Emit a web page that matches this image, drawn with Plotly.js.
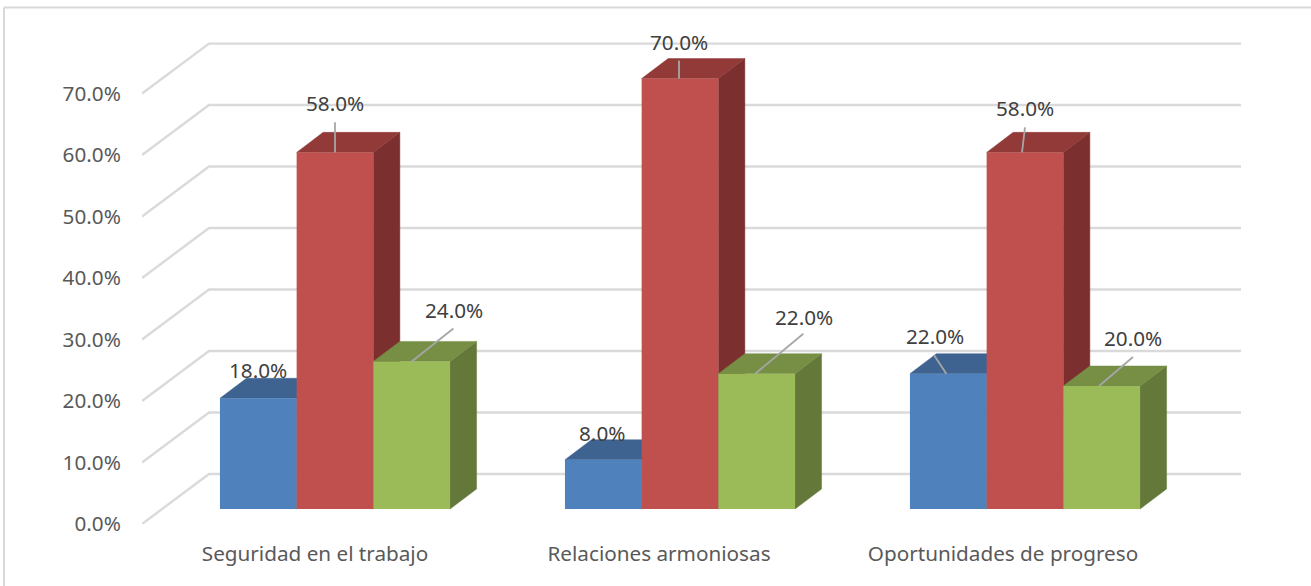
<!DOCTYPE html>
<html>
<head>
<meta charset="utf-8">
<script src="https://cdn.plot.ly/plotly-3.0.1.min.js"></script>
<style>
  html, body { margin: 0; padding: 0; background: #fff; }
  #chart { width: 1311px; height: 586px; }
</style>
</head>
<body>
<div id="chart"></div>
<script>
// Survey results per category
const categories = ['Seguridad en el trabajo', 'Relaciones armoniosas', 'Oportunidades de progreso'];
const serieA = [18, 8, 22];
const serieB = [58, 70, 58];
const serieC = [24, 22, 20];
const yTicks = [0, 10, 20, 30, 40, 50, 60, 70];

// Colours per series: front, top and side faces of the boxes
const frontColors = ['#4F81BD', '#C0504D', '#9BBB59'];
const topColors = ['#3E6390', '#913A38', '#778F45'];
const sideColors = ['#35557C', '#7B302F', '#64783A'];

// Text centre relative to the top-centre of each bar, in pixels [dx, dy]
const labelOffset = [
  [[0, -28], [-1, -27], [-13, -38]],
  [[0, -49], [-1, -37], [0, -44]],
  [[42, -51], [47, -57], [31, -48]]
];
// Leader lines in pixels [foot dx, end dx, end dy], null where a label has none
const leaderOffset = [
  [null, null, [-2, -14.5, -19]],
  [[0, 0, -30], [-1, -1, -18], [-3, 0, -25]],
  [[0, 41.7, -33], [-1.5, 46.6, -40], [-2.7, 31.3, -29]]
];

// Pseudo-3D scene geometry, in pixels of the frame
const plotLeft = 142, plotRight = 1241, plotTop = 30, plotBottom = 523.8;
const pxPerCat = 344, pxPerGroup = 345, pxPerUnit = 6.146;
const ux = px => px / pxPerCat, uy = px => px / pxPerUnit;
const wallDX = ux(67), wallDY = uy(50);
const boxDX = ux(26.5), boxDY = uy(20);
const barW = ux(76.7), groupShift = ux(21), floorBase = uy(15);
const xMin = -0.5, xMax = xMin + (plotRight - plotLeft) / pxPerCat;
const yMax = (plotBottom - plotTop) / pxPerUnit;

const series = [serieA, serieB, serieC];
const traces = [];

// Side wall diagonals and back wall gridlines
const gx = [], gy = [];
yTicks.forEach(t => {
  gx.push(xMin, xMin + wallDX, xMax, null);
  gy.push(t, t + wallDY, t + wallDY, null);
});
traces.push({
  type: 'scatter', mode: 'lines', x: gx, y: gy, zorder: 0, cliponaxis: false,
  line: { color: '#DADADA', width: 2.4 }, hoverinfo: 'skip', showlegend: false
});

const barCenter = (i, k) => i * pxPerGroup / pxPerCat + groupShift + (k - 1) * barW;

series.forEach((vals, k) => {
  const tx = [], ty = [], sx = [], sy = [];
  vals.forEach((v, i) => {
    const l = barCenter(i, k) - barW / 2, r = l + barW;
    const b = floorBase, t = floorBase + v;
    tx.push(l, r, r + boxDX, l + boxDX, l, null);
    ty.push(t, t, t + boxDY, t + boxDY, t, null);
    sx.push(r, r + boxDX, r + boxDX, r, r, null);
    sy.push(b, b + boxDY, t + boxDY, t, b, null);
  });
  const face = (x, y, color) => ({
    type: 'scatter', mode: 'lines', x, y, fill: 'toself', fillcolor: color,
    line: { color, width: 0.5 }, zorder: 2 * k + 1,
    hoverinfo: 'skip', showlegend: false
  });
  traces.push(face(sx, sy, sideColors[k]));
  traces.push(face(tx, ty, topColors[k]));
  traces.push({
    type: 'bar', x: vals.map((v, i) => barCenter(i, k)), y: vals,
    base: vals.map(() => floorBase), width: barW, zorder: 2 * k + 2,
    marker: { color: frontColors[k], line: { color: frontColors[k], width: 0 } },
    hoverinfo: 'skip', showlegend: false
  });
});

// Leader lines from the bar tops towards their labels
const lx = [], ly = [];
series.forEach((vals, k) => {
  vals.forEach((v, i) => {
    const lead = leaderOffset[k][i];
    if (!lead) return;
    const cx = barCenter(i, k), top = floorBase + v;
    lx.push(cx + ux(lead[0]), cx + ux(lead[1]), null);
    ly.push(top, top - uy(lead[2]), null);
  });
});
traces.push({
  type: 'scatter', mode: 'lines', x: lx, y: ly, zorder: 7, cliponaxis: false,
  line: { color: '#A6A6A6', width: 1.8 }, hoverinfo: 'skip', showlegend: false
});

// Value labels, attached to the top of each bar
const annotations = [];
series.forEach((vals, k) => {
  vals.forEach((v, i) => {
    const [dx, dy] = labelOffset[k][i];
    annotations.push({
      x: barCenter(i, k), y: floorBase + v, xref: 'x', yref: 'y',
      text: v.toFixed(1) + '%', showarrow: false,
      xanchor: 'center', yanchor: 'middle', xshift: dx, yshift: -dy,
      font: { family: 'Noto Sans', size: 20.7, color: '#404040' }
    });
  });
});

// Frame: top and left edges only
const W = plotRight - plotLeft, H = plotBottom - plotTop;
const frameX = (4 - plotLeft) / W, frameTop = (plotBottom - 7.5) / H, frameBottom = (plotBottom - 586) / H;
const frameRight = (1311 - plotLeft) / W;
const frameLine = { color: '#D9D9D9', width: 2 };

const layout = {
  width: 1311, height: 586,
  margin: { l: plotLeft, r: 1311 - plotRight, t: plotTop, b: 586 - plotBottom, pad: 0 },
  paper_bgcolor: '#FFFFFF', plot_bgcolor: 'rgba(0,0,0,0)',
  barmode: 'overlay', showlegend: false,
  font: { family: 'Noto Sans', size: 20.7, color: '#595959' },
  xaxis: {
    range: [xMin, xMax], tickmode: 'array', tickvals: categories.map((c, i) => i + ux(1)), ticktext: categories,
    showgrid: false, zeroline: false, showline: false,
    ticks: 'outside', ticklen: 11, tickcolor: 'rgba(0,0,0,0)',
    tickfont: { family: 'Noto Sans', size: 20.7, color: '#595959' }, tickangle: 0
  },
  yaxis: {
    range: [0, yMax], tickmode: 'array', tickvals: yTicks,
    ticktext: yTicks.map(t => t.toFixed(1) + '%'),
    showgrid: false, zeroline: false, showline: false,
    ticks: 'outside', ticklen: 16, tickcolor: 'rgba(0,0,0,0)',
    tickfont: { family: 'Noto Sans', size: 20.7, color: '#595959' }
  },
  shapes: [
    { type: 'line', xref: 'paper', yref: 'paper', x0: frameX, x1: frameRight, y0: frameTop, y1: frameTop, line: frameLine },
    { type: 'line', xref: 'paper', yref: 'paper', x0: frameX, x1: frameX, y0: frameTop, y1: frameBottom, line: frameLine }
  ],
  annotations
};

Plotly.newPlot('chart', traces, layout, { displayModeBar: false, responsive: false });
</script>
</body>
</html>
